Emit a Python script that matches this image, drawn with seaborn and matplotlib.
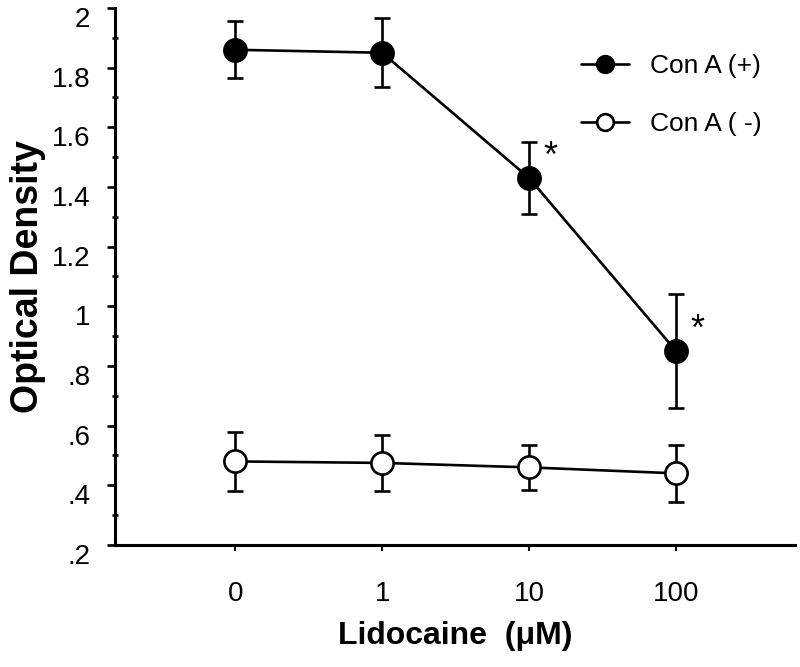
import numpy as np
import pandas as pd
import matplotlib
matplotlib.use('Agg')
import matplotlib.pyplot as plt
import matplotlib.transforms as mtransforms
import seaborn as sns
from matplotlib.lines import Line2D

# data
doses = ['0', '1', '10', '100']
con_pos_mean = [1.86, 1.85, 1.43, 0.85]
con_pos_err = [0.095, 0.115, 0.12, 0.19]
con_neg_mean = [0.48, 0.475, 0.46, 0.44]
con_neg_err = [0.10, 0.095, 0.075, 0.095]
signif = [False, False, True, True]
ytick_vals = [0.2, 0.4, 0.6, 0.8, 1.0, 1.2, 1.4, 1.6, 1.8, 2.0]
ytick_labels = ['.2', '.4', '.6', '.8', '1', '1.2', '1.4', '1.6', '1.8', '2']

df = pd.DataFrame({
    'dose': doses * 2,
    'pos': list(range(len(doses))) * 2,
    'od': con_pos_mean + con_neg_mean,
    'err': con_pos_err + con_neg_err,
    'group': ['Con A (+)'] * 4 + ['Con A ( -)'] * 4,
})

sns.set_style('ticks', {'text.color': 'black', 'axes.labelcolor': 'black',
                        'xtick.color': 'black', 'ytick.color': 'black',
                        'axes.edgecolor': 'black'})
plt.rcParams['font.family'] = ['Liberation Sans', 'DejaVu Sans']

fig = plt.figure(figsize=(8, 6.67), dpi=100)
ax = fig.add_axes([0.144, 0.183, 0.85, 0.805])

styles = {'Con A (+)': 'black', 'Con A ( -)': 'white'}
for grp, face in styles.items():
    sub = df[df['group'] == grp]
    ax.errorbar(sub['pos'], sub['od'], yerr=sub['err'], fmt='none',
                ecolor='black', elinewidth=1.9, capsize=6, capthick=1.9, zorder=2)
    sns.lineplot(data=sub, x='pos', y='od', ax=ax, color='black', linewidth=1.9,
                 marker='o', markersize=16, markerfacecolor=face,
                 markeredgecolor='black', markeredgewidth=1.9, zorder=3,
                 errorbar=None, legend=False)

# significance stars
sub = df[df['group'] == 'Con A (+)']
for p, m, s in zip(sub['pos'], sub['od'], signif):
    if s:
        ax.text(p + 0.1, m + 0.07, '*', fontsize=26, ha='left', va='center')

ax.set_xlim(-0.816, 3.81)
ax.set_ylim(0.2, 2.0)
ax.set_xticks(range(len(doses)))
ax.set_xticklabels(doses)
ax.set_yticks(ytick_vals)
ax.set_yticklabels(ytick_labels)
ax.set_yticks(np.arange(0.3, 2.0, 0.2), minor=True)
ax.tick_params(axis='y', which='major', length=6, width=1.9, labelsize=20, pad=12)
ax.tick_params(axis='y', which='minor', length=4, width=1.9, direction='inout')
ax.tick_params(axis='x', which='major', length=4, width=1.5, labelsize=20, pad=22)
sns.despine(ax=ax)
ax.spines['left'].set_linewidth(2.2)
ax.spines['bottom'].set_linewidth(2.2)

# y tick labels sit a little below their ticks in the original
shift = mtransforms.ScaledTranslation(0, -9 / 100, fig.dpi_scale_trans)
for lab in ax.get_yticklabels():
    lab.set_transform(lab.get_transform() + shift)

ax.set_xlabel('Lidocaine  (\u03bcM)', fontsize=23, fontweight='bold', labelpad=10)
ax.set_ylabel('Optical Density', fontsize=27, fontweight='bold', labelpad=4)

handles = [
    Line2D([], [], color='black', lw=1.9, marker='o', markersize=12,
           markerfacecolor='black', markeredgewidth=1.9),
    Line2D([], [], color='black', lw=1.9, marker='o', markersize=12,
           markerfacecolor='white', markeredgewidth=1.9),
]
ax.legend(handles, ['Con A (+)', 'Con A ( -)'], loc='upper left',
          bbox_to_anchor=(0.71, 0.939), bbox_transform=fig.transFigure,
          frameon=False, fontsize=19, handlelength=1.8, handletextpad=0.8,
          labelspacing=1.3, borderpad=0)

fig.savefig('out.png', dpi=100)
